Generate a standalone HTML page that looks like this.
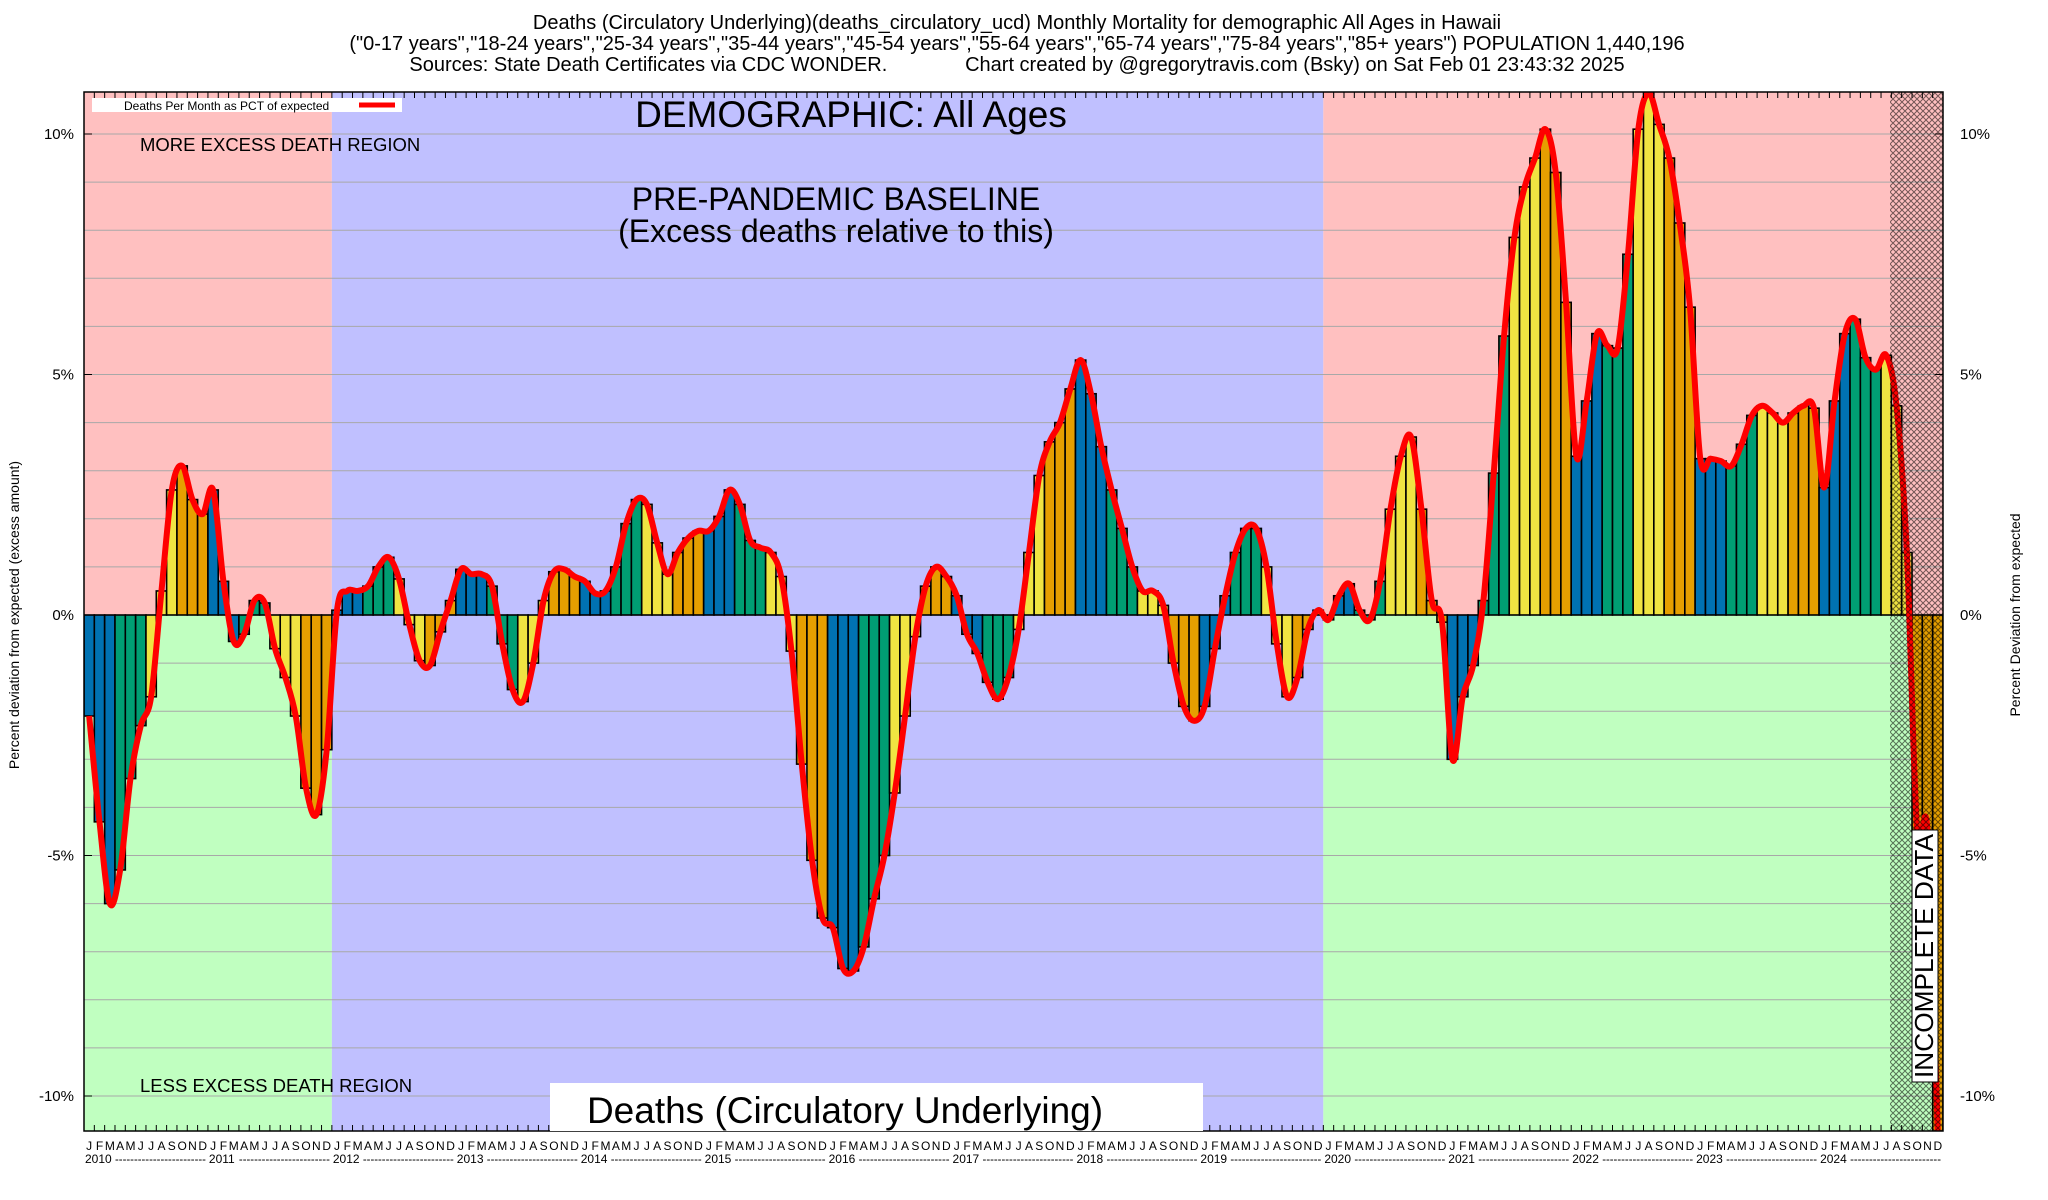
<!DOCTYPE html>
<html><head><meta charset="utf-8"><style>
html,body{margin:0;padding:0;background:#fff;}
svg{display:block;font-family:"Liberation Sans",Arial,sans-serif;}
</style></head><body>
<svg id="chart" width="2048" height="1200" viewBox="0 0 2048 1200" xmlns="http://www.w3.org/2000/svg">
<defs>
<pattern id="hatch" patternUnits="userSpaceOnUse" width="6" height="6">
<path d="M0,0L6,6M6,0L0,6" stroke="#000" stroke-width="1" opacity="0.55"/>
</pattern>
<clipPath id="plotclip"><rect x="84" y="92" width="1859" height="1039"/></clipPath>
</defs>
<g font-size="20" text-anchor="middle">
<text x="1017" y="29">Deaths (Circulatory Underlying)(deaths_circulatory_ucd) Monthly Mortality for demographic All Ages in Hawaii</text>
<text x="1017" y="50">("0-17 years","18-24 years","25-34 years","35-44 years","45-54 years","55-64 years","65-74 years","75-84 years","85+ years") POPULATION 1,440,196</text>
<text x="1017" y="71" xml:space="preserve">Sources: State Death Certificates via CDC WONDER.              Chart created by @gregorytravis.com (Bsky) on Sat Feb 01 23:43:32 2025</text>
</g>
<g id="bg"></g>
<g id="grid"></g>
<g id="bars" clip-path="url(#plotclip)"></g>
<g id="line" clip-path="url(#plotclip)"></g>
<rect x="1890" y="92" width="53" height="1039" fill="url(#hatch)"/>
<rect x="84" y="92" width="1859" height="1039" fill="none" stroke="#000" stroke-width="1.5"/>
<g id="ticks"></g>
<g id="xlabels" font-size="12"></g>
<g id="ylabels" font-size="15"></g>
<text transform="translate(19,615) rotate(-90)" text-anchor="middle" font-size="14">Percent deviation from expected (excess amount)</text>
<text transform="translate(2020,615) rotate(-90)" text-anchor="middle" font-size="14">Percent Deviation from expected</text>
<g>
<rect x="92" y="98" width="310" height="14" fill="#fff"/>
<text x="124" y="110" font-size="12">Deaths Per Month as PCT of expected</text>
<line x1="359" y1="105" x2="395" y2="105" stroke="#f00" stroke-width="5"/>
</g>
<text x="851" y="127" text-anchor="middle" font-size="37">DEMOGRAPHIC: All Ages</text>
<text x="836" y="210" text-anchor="middle" font-size="32">PRE-PANDEMIC BASELINE</text>
<text x="836" y="242" text-anchor="middle" font-size="32">(Excess deaths relative to this)</text>
<text x="140" y="151" font-size="18.5">MORE EXCESS DEATH REGION</text>
<text x="140" y="1092" font-size="18.5">LESS EXCESS DEATH REGION</text>
<rect x="550" y="1083" width="653" height="48" fill="#fff"/>
<text x="845" y="1123" text-anchor="middle" font-size="37">Deaths (Circulatory Underlying)</text>
<rect x="1912" y="830" width="26" height="252" fill="#fff" stroke="#000" stroke-width="1"/>
<text transform="translate(1933,1078) rotate(-90)" font-size="26" textLength="244" lengthAdjust="spacingAndGlyphs">INCOMPLETE DATA</text>
</svg>
<script>
const years = [2010,2011,2012,2013,2014,2015,2016,2017,2018,2019,2020,2021,2022,2023,2024];
const monthLetters = ["J","F","M","A","M","J","J","A","S","O","N","D"];
const yTicks = [-10,-5,0,5,10];
const values = [
-2.1,-4.3,-6.0,-5.3,-3.4,-2.3,-1.7,0.5,2.6,3.1,2.4,2.1,
2.6,0.7,-0.55,-0.4,0.3,0.25,-0.7,-1.3,-2.1,-3.6,-4.15,-2.8,
0.1,0.5,0.5,0.6,1.0,1.2,0.75,-0.2,-0.95,-1.05,-0.35,0.3,
0.95,0.85,0.85,0.6,-0.6,-1.55,-1.8,-1.0,0.3,0.9,0.95,0.8,
0.7,0.45,0.5,1.0,1.9,2.4,2.3,1.5,0.85,1.3,1.6,1.75,
1.75,2.05,2.6,2.3,1.55,1.4,1.3,0.8,-0.75,-3.1,-5.1,-6.3,
-6.5,-7.35,-7.4,-6.9,-5.9,-5.0,-3.7,-2.1,-0.45,0.6,1.0,0.8,
0.4,-0.4,-0.8,-1.4,-1.75,-1.3,-0.3,1.3,2.9,3.6,4.0,4.7,
5.3,4.6,3.5,2.6,1.8,1.0,0.5,0.5,0.2,-1.0,-1.9,-2.2,
-1.9,-0.7,0.4,1.3,1.8,1.8,1.0,-0.6,-1.7,-1.3,-0.3,0.1,
-0.1,0.4,0.65,0.1,-0.1,0.7,2.2,3.3,3.7,2.2,0.3,-0.15,
-3.0,-1.7,-1.05,0.3,2.95,5.8,7.85,8.9,9.5,10.1,9.2,6.5,
3.3,4.45,5.85,5.6,5.55,7.5,10.1,10.85,10.2,9.5,8.15,6.4,
3.25,3.25,3.2,3.1,3.55,4.15,4.35,4.2,4.0,4.2,4.35,4.3,
2.65,4.45,5.85,6.15,5.35,5.1,5.4,4.35,1.3,-4.5,-4.5,-10.8
];
const NS="http://www.w3.org/2000/svg";
const L=84,R=1943,T=92,B=1131,Y0=615,PER=48.1;
const N=years.length*12, MW=(R-L)/N;
const xOf=i=>L+i*MW;
const yOf=v=>Y0-v*PER;
function mk(tag,attrs,parent){const e=document.createElementNS(NS,tag);for(const k in attrs)e.setAttribute(k,attrs[k]);parent.appendChild(e);return e;}
const bg=document.getElementById('bg');
const preStart=xOf(24), preEnd=xOf(120);
let r;
r=mk('rect',{x:L,y:T,width:preStart-L,height:Y0-T,fill:'#ffc0c0'},bg);


r=mk('rect',{x:L,y:Y0,width:preStart-L,height:B-Y0,fill:'#c0ffc0'},bg);


r=mk('rect',{x:preStart,y:T,width:preEnd-preStart,height:B-T,fill:'#c0c0ff'},bg);


r=mk('rect',{x:preEnd,y:T,width:R-preEnd,height:Y0-T,fill:'#ffc0c0'},bg);


r=mk('rect',{x:preEnd,y:Y0,width:R-preEnd,height:B-Y0,fill:'#c0ffc0'},bg);


const grid=document.getElementById('grid');
for(let v=-10;v<=10;v++){
  const ln=mk('line',{x1:L,x2:R,y1:yOf(v),y2:yOf(v),stroke:'#a8a8a8','stroke-width':1},grid);
  
  
}
const colors=['#0072b2','#009e73','#f0e442','#e69f00'];
const bars=document.getElementById('bars');
values.forEach((v,i)=>{
  const y1=yOf(Math.max(v,0)), y2=yOf(Math.min(v,0));
  const b=mk('rect',{x:xOf(i),y:y1,width:MW,height:Math.max(y2-y1,0.5),fill:colors[Math.floor((i%12)/3)],stroke:'#000','stroke-width':1.6},bars);
  
  
});
const pts=values.map((v,i)=>[xOf(i+0.5),yOf(v)]);
let d='M'+pts[0][0]+','+pts[0][1];
for(let i=0;i<pts.length-1;i++){
  const p0=pts[Math.max(i-1,0)],p1=pts[i],p2=pts[i+1],p3=pts[Math.min(i+2,pts.length-1)];
  const c1=[p1[0]+(p2[0]-p0[0])/6,p1[1]+(p2[1]-p0[1])/6];
  const c2=[p2[0]-(p3[0]-p1[0])/6,p2[1]-(p3[1]-p1[1])/6];
  d+='C'+c1[0]+','+c1[1]+' '+c2[0]+','+c2[1]+' '+p2[0]+','+p2[1];
}
const pl=mk('path',{d:d,fill:'none',stroke:'#f00','stroke-width':6,'stroke-linejoin':'round'},document.getElementById('line'));


const ticks=document.getElementById('ticks'), xl=document.getElementById('xlabels');
for(let i=0;i<=N;i++){
  const x=xOf(i);
  mk('line',{x1:x,x2:x,y1:B,y2:B-6,stroke:'#000','stroke-width':1},ticks);
  mk('line',{x1:x,x2:x,y1:T,y2:T+6,stroke:'#000','stroke-width':1},ticks);
}
for(let i=0;i<N;i++){
  const t=mk('text',{x:xOf(i+0.5),y:1150,'text-anchor':'middle'},xl);
  t.textContent=monthLetters[i%12];
  
  
}
years.forEach((yr,k)=>{
  const t=mk('text',{x:xOf(k*12)+1,y:1163},xl);
  t.textContent=yr;
  
  
  const ds=mk('text',{x:xOf(k*12)+31,y:1163,textLength:MW*12-33,lengthAdjust:'spacingAndGlyphs'},xl);
  ds.textContent='------------------------';
  
  
});
const yl=document.getElementById('ylabels');
yTicks.forEach(v=>{
  const a=mk('text',{x:74,y:yOf(v)+5,'text-anchor':'end'},yl);
  a.textContent=v+'%';
  
  
  const b=mk('text',{x:1960,y:yOf(v)+5},yl);
  b.textContent=v+'%';
  
  
  mk('line',{x1:L,x2:L+8,y1:yOf(v),y2:yOf(v),stroke:'#000'},ticks);
  mk('line',{x1:R-8,x2:R,y1:yOf(v),y2:yOf(v),stroke:'#000'},ticks);
});
</script>
</body></html>
